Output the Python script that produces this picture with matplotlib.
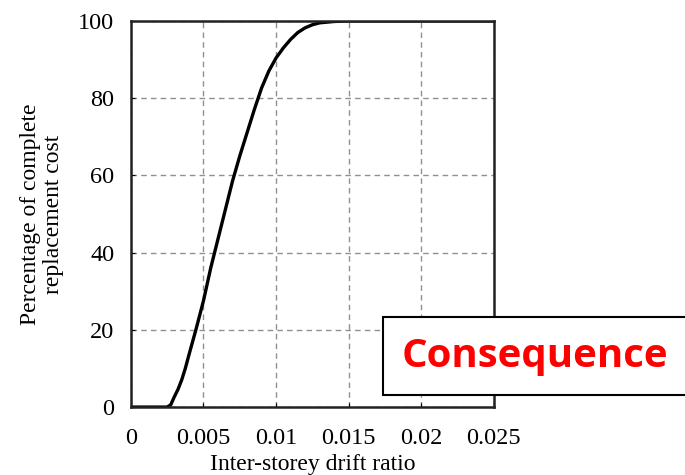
import matplotlib.pyplot as plt
from matplotlib.patches import Rectangle

# values
drift = [0.0, 0.0025, 0.00275, 0.003, 0.00325, 0.0035, 0.00375, 0.004,
         0.0045, 0.005, 0.0055, 0.006, 0.0065, 0.007, 0.0075, 0.008,
         0.0085, 0.009, 0.0095, 0.010, 0.0105, 0.011, 0.0115, 0.012,
         0.0125, 0.013, 0.014, 0.015, 0.017, 0.020, 0.025]
cost = [0.0, 0.0, 0.6, 2.7, 4.6, 7.0, 10.0, 13.5,
        20.3, 27.5, 36.0, 43.5, 51.0, 58.5, 65.0, 71.0,
        77.0, 82.6, 87.0, 90.4, 93.0, 95.2, 97.0, 98.2,
        99.0, 99.5, 99.85, 100.0, 100.0, 100.0, 100.0]

xticks = [0, 0.005, 0.01, 0.015, 0.02, 0.025]
xticklabels = ['0', '0.005', '0.01', '0.015', '0.02', '0.025']
yticks = [0, 20, 40, 60, 80, 100]

plt.rcParams['font.family'] = 'Liberation Serif'

fig = plt.figure(figsize=(6.85, 4.75), dpi=100)
ax = fig.add_axes([0.191, 0.143, 0.530, 0.813])
ax.plot(drift, cost, color='black', lw=2.4, solid_capstyle='round')
ax.set_xlim(0, 0.025)
ax.set_ylim(0, 100)
ax.set_xticks(xticks)
ax.set_xticklabels(xticklabels)
ax.set_yticks(yticks)
ax.tick_params(labelsize=17.5, direction='in', length=3, pad=12)
ax.tick_params(axis='x', pad=15)
ax.grid(True, linestyle=(0, (4, 3)), color='#909090', lw=1)
for s in ax.spines.values():
    s.set_linewidth(1.8)
    s.set_color('#222222')
ax.set_xlabel('Inter-storey drift ratio', fontsize=17, labelpad=4)
ax.set_ylabel('Percentage of complete\nreplacement cost', fontsize=17,
              labelpad=10, linespacing=1.15)

# label box on top of the plot
fig.patches.append(Rectangle((0.559, 0.168), 0.445, 0.165,
                             transform=fig.transFigure, facecolor='white',
                             edgecolor='black', lw=1.5, zorder=5))
fig.text(0.781, 0.249, 'Consequence', color='red', fontsize=29,
         fontweight='bold', family='Open Sans', ha='center', va='center',
         zorder=6)

fig.savefig('out.png', dpi=100)
